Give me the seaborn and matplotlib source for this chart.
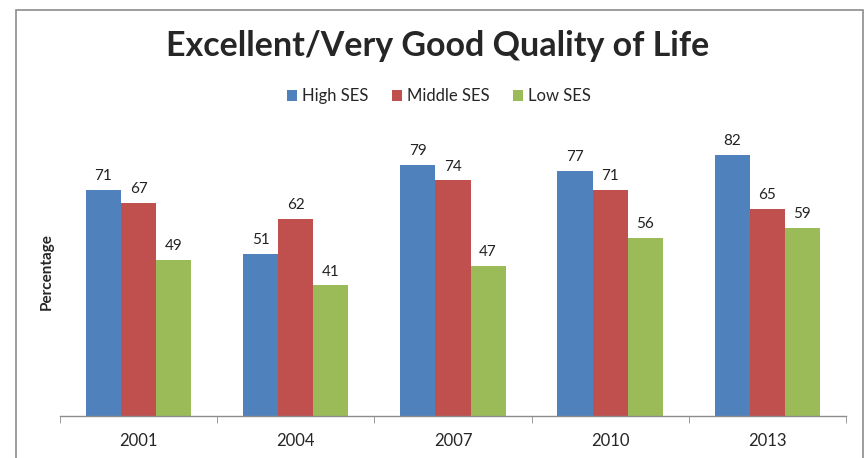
import pandas as pd
import matplotlib
matplotlib.use("Agg")
import matplotlib.pyplot as plt
import seaborn as sns
from matplotlib.patches import Rectangle

years = ["2001", "2004", "2007", "2010", "2013"]
high_ses = [71, 51, 79, 77, 82]
middle_ses = [67, 62, 74, 71, 65]
low_ses = [49, 41, 47, 56, 59]
groups = ["High SES", "Middle SES", "Low SES"]
colors = ["#4F81BD", "#C0504D", "#9BBB59"]


def build_frame():
    rows = []
    for name, vals in zip(groups, [high_ses, middle_ses, low_ses]):
        for yr, v in zip(years, vals):
            rows.append({"Year": yr, "Group": name, "Value": v})
    return pd.DataFrame(rows)


def draw(df):
    sns.set_style("white")
    plt.rcParams["font.family"] = ["Lato", "DejaVu Sans"]

    fig = plt.figure(figsize=(8.64, 4.58), dpi=100)
    ax = fig.add_axes([0.0694, 0.0917, 0.9097, 0.695])

    sns.barplot(data=df, x="Year", y="Value", hue="Group", order=years,
                hue_order=groups, palette=colors, width=0.67, saturation=1,
                linewidth=0, ax=ax, legend=True)

    for cont in ax.containers:
        ax.bar_label(cont, fmt="%d", padding=5, fontsize=11, color="#222222")

    ax.set_ylim(0, 100)
    ax.set_xlim(-0.5, 4.5)
    ax.set_yticks([])
    ax.set_xlabel("")
    ax.set_ylabel("Percentage", fontsize=11, fontweight="bold")
    ax.yaxis.set_label_coords(-0.008, 0.455)

    for side in ["top", "right", "left"]:
        ax.spines[side].set_visible(False)
    ax.spines["bottom"].set_color("#8c8c8c")
    ax.spines["bottom"].set_linewidth(1.0)

    ax.set_xticks(range(len(years)))
    ax.set_xticklabels(years, fontsize=12)
    ax.set_xticks([i - 0.5 for i in range(len(years) + 1)], minor=True)
    ax.tick_params(axis="x", which="major", length=0, pad=12)
    ax.tick_params(axis="x", which="minor", length=5, color="#8c8c8c",
                   direction="out", bottom=True)

    handles, labels = ax.get_legend_handles_labels()
    ax.legend(handles, labels, loc="center", bbox_to_anchor=(0.508, 0.79),
              bbox_transform=fig.transFigure, ncol=3, frameon=False,
              fontsize=12, handlelength=0.6, handleheight=0.6,
              handletextpad=0.3, columnspacing=1.4)

    fig.text(0.507, 0.9, "Excellent/Very Good Quality of Life",
             ha="center", va="center", fontsize=24.5, fontweight="bold")

    fig.patches.append(Rectangle((0.0185, -0.02), 0.98, 0.998,
                                 transform=fig.transFigure, fill=False,
                                 edgecolor="#8c8c8c", linewidth=1.2))

    fig.savefig("out.png", dpi=100)


if __name__ == "__main__":
    draw(build_frame())
